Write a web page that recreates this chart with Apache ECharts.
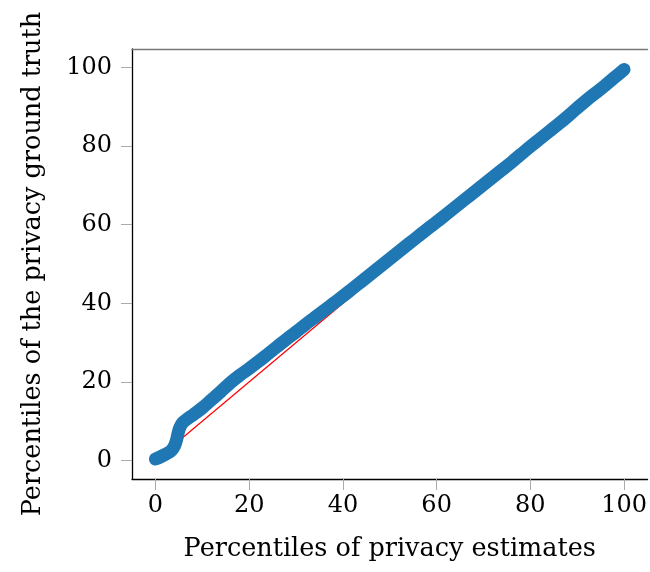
<!DOCTYPE html>
<html>
<head>
<meta charset="utf-8">
<script src="https://cdn.jsdelivr.net/npm/echarts@6/dist/echarts.min.js"></script>
<style>
html,body{margin:0;padding:0;background:#fff;}
#chart{width:650px;height:572px;}
</style>
</head>
<body>
<div id="chart"></div>
<script>
const estimatePercentiles = [0,1,2,2.8,3.5,4.1,4.5,4.8,5.2,5.8,6.8,8,10,12,14,16,18,20,22,24,26,28,30,32,34,36,38,40,42,44,46,48,50,52,54,56,58,60,62,64,66,68,70,72,74,76,78,80,82,84,86,88,90,92,94,96,98,100];
const truthPercentiles = [0.4,0.9,1.5,2.0,2.7,3.8,5.2,6.8,8.4,9.6,10.6,11.6,13.4,15.5,17.6,19.8,21.7,23.4,25.2,27.1,29.0,30.9,32.7,34.6,36.4,38.2,40.0,41.8,43.7,45.6,47.5,49.4,51.3,53.2,55.1,57.0,58.9,60.7,62.6,64.5,66.4,68.3,70.2,72.1,74.0,75.9,77.9,79.9,81.8,83.7,85.6,87.6,89.7,91.7,93.6,95.5,97.5,99.5];
const diagonalX = [0,100];
const diagonalY = [0,100];
const tickValues = [0,20,40,60,80,100];
const xTitle = 'Percentiles of privacy estimates';
const yTitle = 'Percentiles of the privacy ground truth';

const font = 'DejaVu Serif';
const qq = estimatePercentiles.map((x,i)=>[x,truthPercentiles[i]]);
const diag = diagonalX.map((x,i)=>[x,diagonalY[i]]);

const chart = echarts.init(document.getElementById('chart'), null, {renderer:'canvas'});
chart.setOption({
  animation:false,
  backgroundColor:'#fff',
  grid:{left:132,top:49,width:519,height:430,containLabel:false},
  xAxis:[{
    type:'value',min:-5,max:105,
    name:xTitle,nameLocation:'middle',nameGap:57,
    nameTextStyle:{fontFamily:font,fontSize:25.5,color:'#000'},
    axisLine:{show:true,onZero:false,lineStyle:{color:'#000',width:1.3}},
    axisTick:{show:true,length:11,customValues:tickValues,lineStyle:{color:'#aaa',width:1}},
    axisLabel:{customValues:tickValues,fontFamily:font,fontSize:24,color:'#000',margin:15},
    splitLine:{show:false}
  },{
    type:'value',min:-5,max:105,position:'top',
    axisLine:{show:true,onZero:false,lineStyle:{color:'#777',width:1.3}},
    axisTick:{show:false},axisLabel:{show:false},splitLine:{show:false}
  }],
  yAxis:[{
    type:'value',min:-4.7,max:104.7,
    name:yTitle,nameLocation:'middle',nameGap:86,
    nameTextStyle:{fontFamily:font,fontSize:25.5,color:'#000'},
    axisLine:{show:true,onZero:false,lineStyle:{color:'#000',width:1.3}},
    axisTick:{show:true,length:11,customValues:tickValues,lineStyle:{color:'#aaa',width:1}},
    axisLabel:{customValues:tickValues,fontFamily:font,fontSize:24,color:'#000',margin:20},
    splitLine:{show:false}
  }],
  series:[{
    type:'line',data:diag,showSymbol:false,symbol:'none',
    lineStyle:{color:'#ff0000',width:1.2},z:2
  },{
    type:'line',data:qq,showSymbol:false,symbol:'none',smooth:0.3,
    lineStyle:{color:'#1f77b4',width:13,cap:'round',join:'round'},z:3
  }]
});
</script>
</body>
</html>
